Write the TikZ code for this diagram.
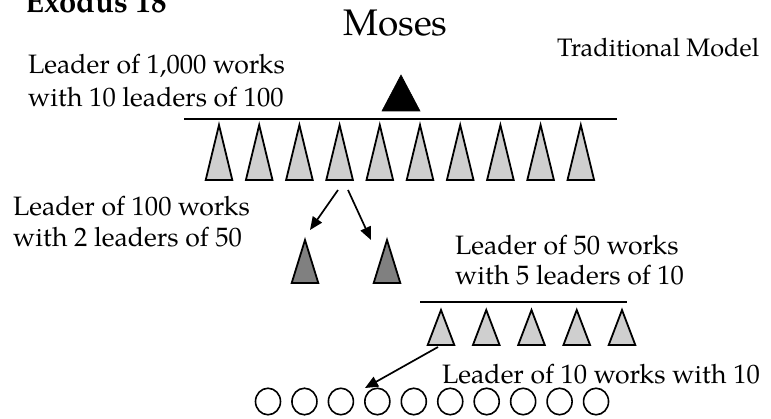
\documentclass[tikz,border=0pt]{standalone}
\usepackage{fontspec}
\setmainfont{texgyrepagella}[Extension=.otf, UprightFont=*-regular, BoldFont=*-bold]
\usetikzlibrary{arrows.meta, shapes.geometric}

\definecolor{lightfill}{HTML}{CFCFCF}
\definecolor{darkfill}{HTML}{808080}

\tikzset{
  lbl/.style={anchor=base west, inner sep=0pt, font=\fontsize{26.6}{30}\selectfont},
  bar/.style={line width=2.4pt},
  arr/.style={line width=1.7pt, -{Triangle[length=13pt, width=11pt]}},
  ring/.style={draw, line width=1.6pt, ellipse, minimum width=25pt, minimum height=26.5pt, inner sep=0pt},
  pics/tri/.style n args={4}{code={
    % #1 half width, #2 height, #3 fill colour, #4 outline width
    \coordinate (-base) at (0,0);
    \coordinate (-apex) at (0,-#2);
    \filldraw[fill=#3, line width=#4, line join=miter] (-#1,0) -- (0,-#2) -- (#1,0) -- cycle;
  }}
}

\begin{document}
\begin{tikzpicture}[x=1pt, y=-1pt]
\useasboundingbox (0,0) rectangle (771,419);

% titles
\node[anchor=base west, inner sep=0pt, font=\fontsize{31}{34}\selectfont\bfseries] (title) at (25,12.5) {Exodus 18};
\node[anchor=base west, inner sep=0pt, font=\fontsize{37}{40}\selectfont] (moses) at (343,35.5) {Moses};
\node[anchor=base west, inner sep=0pt, font=\fontsize{25.3}{28}\selectfont] (model) at (557,57) {Traditional Model};

% level of Moses
\pic (top) at (401,111) {tri={19}{36}{black}{0.6pt}};
\draw[bar] (184,119) coordinate (barAl) -- (617,119) coordinate (barAr);

% leaders of 1,000 / 100
\foreach \i in {0,...,9} {
  \pic (h\i) at ({219+40.2*\i},180) {tri={13.3}{55}{lightfill}{1.8pt}};
}
\node[lbl] (l1000a) at (28,74) {Leader of 1,000 works};
\node[lbl] (l1000b) at (28,107) {with 10 leaders of 100};

% leader of 100 splits in two
\node[lbl] (l100a) at (13,216) {Leader of 100 works};
\node[lbl] (l100b) at (13,247) {with 2 leaders of 50};
\pic (f0) at (305,283) {tri={13.3}{43}{darkfill}{1.8pt}};
\pic (f1) at (387,283) {tri={13.3}{43}{darkfill}{1.8pt}};
\coordinate (s0) at (338,190);
\coordinate (s1) at (348,190);
\coordinate (e0) at (310,230);
\coordinate (e1) at (371,240);
\draw[arr] (s0) -- (e0);
\draw[arr] (s1) -- (e1);

% leader of 50 with five leaders of 10
\node[lbl] (l50a) at (455,255) {Leader of 50 works};
\node[lbl] (l50b) at (455,285) {with 5 leaders of 10};
\draw[bar] (420,302) coordinate (barBl) -- (627,302) coordinate (barBr);
\foreach \i in {0,...,4} {
  \pic (t\i) at ({441+45.25*\i},345) {tri={13.3}{35}{lightfill}{1.8pt}};
}

% leader of 10 with ten people
\node[lbl] (l10) at (442,384) {Leader of 10 works with 10};
\foreach \i in {0,...,9} {
  \node[ring] (p\i) at ({268+36.45*\i},401.5) {};
}
\coordinate (s2) at (438,347);
\coordinate (e2) at (365,388);
\draw[arr] (s2) -- (e2);
\end{tikzpicture}
\end{document}
